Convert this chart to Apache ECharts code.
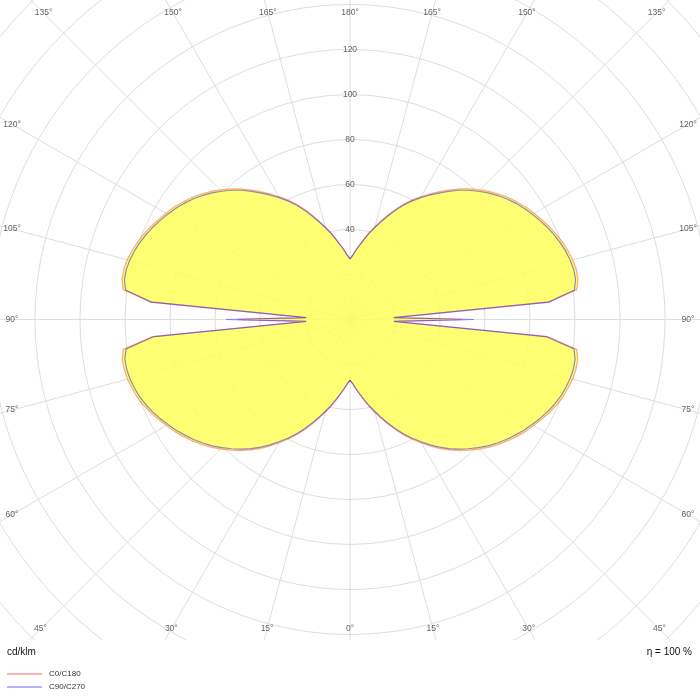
<!DOCTYPE html>
<html>
<head>
<meta charset="utf-8">
<script src="https://cdn.jsdelivr.net/npm/echarts@6/dist/echarts.min.js"></script>
<style>
html,body{margin:0;padding:0;background:#fff;}
#chart{width:700px;height:700px;}
</style>
</head>
<body>
<div id="chart"></div>
<script>
// ---- data (cd/klm) ----
const gammaDeg = [0,2.5,5,7.5,10,12.5,15,17.5,20,22.5,25,27.5,30,32.5,35,37.5,40,42.5,45,47.5,50,52.5,55,57.5,60,62.5,65,67.5,70,72.5,75,77.5,80,82.5,85,87.5,90,92.5,95,97.5,100,102.5,105,107.5,110,112.5,115,117.5,120,122.5,125,127.5,130,132.5,135,137.5,140,142.5,145,147.5,150,152.5,155,157.5,160,162.5,165,167.5,170,172.5,175,177.5,180];
const intensityC0C180 = [27.0,28.8,31.2,33.7,36.6,39.7,42.8,46.0,49.5,53.0,56.6,60.1,63.3,66.8,70.0,73.1,76.0,78.8,81.4,83.9,86.3,88.5,90.6,92.5,94.3,96.1,97.8,99.4,100.7,101.6,102.4,102.8,102.8,101.6,88.4,19.5,50.0,19.5,89.2,101.7,102.9,103.0,102.5,101.6,100.5,99.2,97.7,96.1,94.5,92.8,90.9,88.9,86.6,84.2,81.5,78.8,75.8,72.6,69.4,66.2,63.1,59.9,56.6,53.0,49.4,45.9,42.7,39.6,36.5,33.6,31.2,28.7,27.0];
const intensityC90C270 = [26.9,28.6,31.0,33.4,36.2,39.2,42.2,45.4,48.8,52.4,56.0,59.4,62.6,66.1,69.2,72.3,75.2,77.9,80.5,83.1,85.4,87.6,89.6,91.6,93.4,95.2,96.9,98.4,99.7,100.6,101.3,101.7,101.6,100.4,87.7,19.5,55.0,19.5,88.5,100.6,101.8,101.9,101.4,100.6,99.5,98.2,96.8,95.2,93.6,91.9,90.0,88.0,85.7,83.3,80.6,77.9,75.0,71.8,68.6,65.5,62.4,59.3,56.0,52.4,48.8,45.4,42.2,39.2,36.2,33.4,31.0,28.6,26.9];
const seriesNames = ['C0/C180','C90/C270'];
const radiusTickLabels = [40,60,80,100,120];
const angleTickLabels = [0,15,30,45,60,75,90,105,120,135,150,165,180];
const unitText = 'cd/klm';
const efficiencyText = 'η = 100 %';

// ---- layout ----
const CX = 350, CY = 319.5, RMAX = 220, RPX = 495;
const pxPerUnit = RPX / RMAX;
const FONT = 'Liberation Sans, Arial, sans-serif';
const LBOX = {l: 12, r: 688, t: 13, b: 629};

// full closed curve: left half = gamma, right half = 360 - gamma
function fullCurve(vals) {
  const pts = [];
  for (let i = 0; i < gammaDeg.length; i++) pts.push([vals[i], gammaDeg[i]]);
  for (let i = gammaDeg.length - 2; i >= 0; i--) pts.push([vals[i], 360 - gammaDeg[i]]);
  return pts;
}

// radius (in data units) where a spoke reaches the label frame
function edgeRadius(v) {
  const a = v * Math.PI / 180;
  const dx = -Math.sin(a), dy = Math.cos(a);
  let t = Infinity;
  if (dx < -1e-9) t = Math.min(t, (CX - LBOX.l) / -dx);
  if (dx > 1e-9) t = Math.min(t, (LBOX.r - CX) / dx);
  if (dy < -1e-9) t = Math.min(t, (CY - LBOX.t) / -dy);
  if (dy > 1e-9) t = Math.min(t, (LBOX.b - CY) / dy);
  return t / pxPerUnit;
}

const angleLabelData = [];
angleTickLabels.forEach(g => {
  angleLabelData.push({name: g + '°', value: [edgeRadius(g), g]});
  if (g !== 0 && g !== 180) angleLabelData.push({name: g + '°', value: [edgeRadius(360 - g), 360 - g]});
});
const radiusLabelData = radiusTickLabels.map(v => ({name: String(v), value: [v, 180]}));

const labelStyle = {show: true, position: 'inside', formatter: p => p.name, fontSize: 8.5, color: '#3a3a3a', fontFamily: FONT};

const chart = echarts.init(document.getElementById('chart'), null, {renderer: 'canvas'});
chart.setOption({
  animation: false,
  backgroundColor: '#fff',
  polar: {center: [CX, CY], radius: RPX},
  angleAxis: {
    type: 'value', min: 0, max: 360, interval: 15, startAngle: 270, clockwise: true,
    axisLine: {show: false}, axisTick: {show: false}, axisLabel: {show: false},
    splitLine: {show: true, lineStyle: {color: '#dedede', width: 1}}
  },
  radiusAxis: {
    type: 'value', min: 0, max: RMAX, interval: 20,
    axisLine: {show: false}, axisTick: {show: false}, axisLabel: {show: false},
    splitLine: {show: true, lineStyle: {color: '#dedede', width: 1}}
  },
  legend: {
    orient: 'vertical', left: 7, top: 669, padding: 0, itemWidth: 35, itemHeight: 2, itemGap: 3,
    icon: 'rect', z: 60, data: seriesNames,
    textStyle: {fontSize: 8, color: '#333', fontFamily: FONT, lineHeight: 10, padding: [0, 0, 0, 2]}
  },
  graphic: {elements: [
    {type: 'rect', z: 50, shape: {x: 0, y: 640, width: 700, height: 60}, style: {fill: '#fff'}},
    {type: 'text', z: 60, x: 7, y: 652, style: {text: unitText, font: '10px ' + FONT, fill: '#111', textVerticalAlign: 'middle'}},
    {type: 'text', z: 60, x: 692, y: 652, style: {text: efficiencyText, font: '10px ' + FONT, fill: '#111', textAlign: 'right', textVerticalAlign: 'middle'}}
  ]},
  series: [
    {
      name: seriesNames[0], type: 'line', coordinateSystem: 'polar', data: fullCurve(intensityC0C180),
      symbol: 'none', smooth: false, clip: false, z: 2,
      itemStyle: {color: 'rgba(255,0,0,0.3)'},
      lineStyle: {color: 'rgba(255,0,0,0.32)', width: 1.3},
      areaStyle: {color: 'rgba(255,255,90,0.85)', opacity: 1, origin: 'start'}
    },
    {
      name: seriesNames[1], type: 'line', coordinateSystem: 'polar', data: fullCurve(intensityC90C270),
      symbol: 'none', smooth: false, clip: false, z: 3,
      itemStyle: {color: 'rgba(0,0,255,0.3)'},
      lineStyle: {color: 'rgba(0,0,255,0.45)', width: 1.2}
    },
    {
      type: 'scatter', coordinateSystem: 'polar', data: radiusLabelData, symbolSize: 1,
      itemStyle: {color: 'rgba(0,0,0,0)'}, silent: true, z: 4, label: labelStyle
    },
    {
      type: 'scatter', coordinateSystem: 'polar', data: angleLabelData, symbolSize: 1,
      itemStyle: {color: 'rgba(0,0,0,0)'}, silent: true, z: 4, label: labelStyle
    }
  ]
});
</script>
</body>
</html>
